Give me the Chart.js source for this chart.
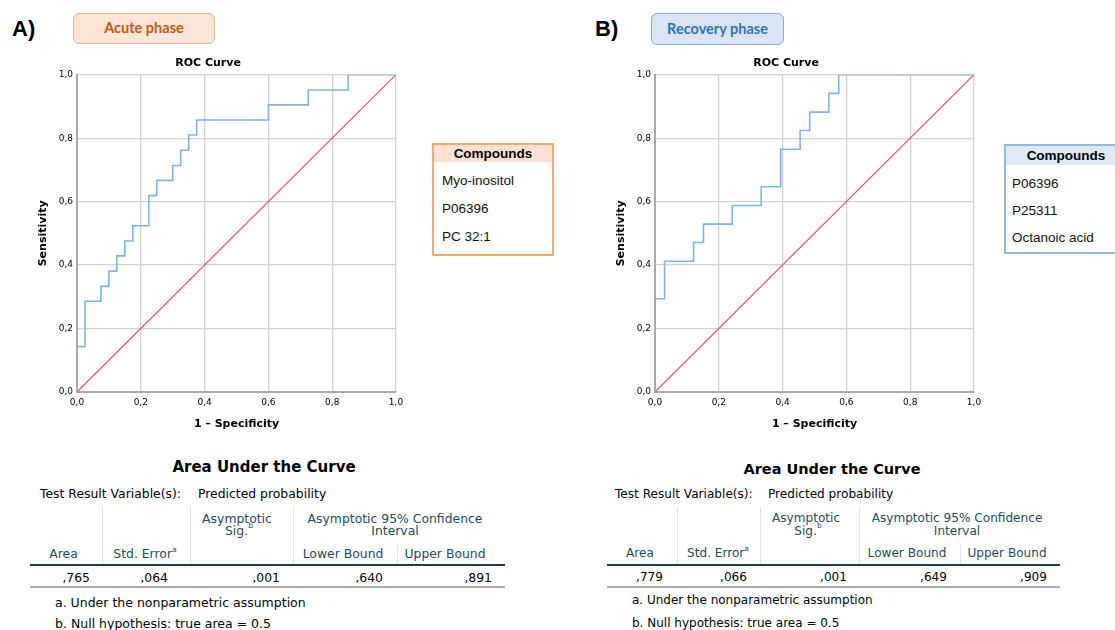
<!DOCTYPE html>
<html><head><meta charset="utf-8">
<script src="https://cdn.jsdelivr.net/npm/chart.js@4.4.1/dist/chart.umd.min.js"></script>
<style>
html,body{margin:0;padding:0;background:#fff;}
body{width:1115px;height:630px;position:relative;overflow:hidden;font-family:"DejaVu Sans",sans-serif;}
.abs{position:absolute;white-space:nowrap;}
canvas{position:absolute;}
.panelLbl{font-family:"Liberation Sans",Arial,sans-serif;font-weight:bold;font-size:22px;line-height:24px;color:#000;}
.phase{box-sizing:border-box;border-radius:6px;font-family:Lato,sans-serif;font-weight:bold;font-size:14.5px;text-align:center;}
.legend{box-sizing:border-box;font-family:"Liberation Sans",Arial,sans-serif;background:#fff;}
.legend .hd{font-weight:bold;font-size:13.5px;text-align:center;color:#000;}
.legend .it{position:absolute;font-size:13.5px;color:#111;}
.hline{position:absolute;}
sup{font-size:0.62em;line-height:0;}
</style></head>
<body>
<div class="abs panelLbl" style="left:12px;top:17px;">A)</div>
<div class="abs panelLbl" style="left:595px;top:17px;">B)</div>
<div class="abs phase" style="left:73px;top:13px;width:142px;height:31px;line-height:28px;background:#fce4d6;border:1.5px solid #f4b183;color:#c55a11;">Acute phase</div>
<div class="abs phase" style="left:651px;top:13px;width:133px;height:32px;line-height:29px;background:#dae3f3;border:1.5px solid #8eaadb;color:#2f75b5;">Recovery phase</div>

<canvas id="rocA" width="390" height="390" style="left:20px;top:50px;"></canvas>
<canvas id="rocB" width="390" height="390" style="left:598px;top:50px;"></canvas>

<div id="legA" class="abs legend" style="left:432px;top:143px;width:122px;height:113px;border:2px solid #f4a974;"></div>
<div id="legB" class="abs legend" style="left:1004px;top:144px;width:124px;height:110px;border:2px solid #93b5de;"></div>

<div id="tables"></div>

<script>
// ---------- DATA ----------
// Panel A (Acute phase) ROC curve vertices: 1 - specificity, sensitivity
const acuteFPR = [0, 0, 0.025, 0.075, 0.100, 0.125, 0.150, 0.175, 0.225, 0.250, 0.300, 0.325, 0.350, 0.375, 0.600, 0.725, 0.850, 1.0];
const acuteTPR = [0, 0.143, 0.286, 0.333, 0.381, 0.429, 0.476, 0.524, 0.619, 0.667, 0.714, 0.762, 0.810, 0.857, 0.905, 0.952, 1.0, 1.0];
// Panel B (Recovery phase)
const recovFPR = [0, 0, 0.030, 0.121, 0.152, 0.242, 0.333, 0.394, 0.455, 0.485, 0.545, 0.576, 1.0];
const recovTPR = [0, 0.294, 0.412, 0.471, 0.529, 0.588, 0.647, 0.765, 0.824, 0.882, 0.941, 1.0, 1.0];
// Reference line
const diagX = [0, 1];
const diagY = [0, 1];
// Axis ticks
const tickMin = 0, tickMax = 1, tickStep = 0.2;

// Legends
const acuteCompounds = ["Myo-inositol", "P06396", "PC 32:1"];
const recovCompounds = ["P06396", "P25311", "Octanoic acid"];

// AUC tables
const aucHeaders = ["Area", "Std. Error", "Asymptotic Sig.", "Lower Bound", "Upper Bound"];
const acuteAUC = [",765", ",064", ",001", ",640", ",891"];
const recovAUC = [",779", ",066", ",001", ",649", ",909"];

// ---------- CHARTS ----------
Chart.defaults.font.family = "DejaVu Sans";
const fmt = v => Number(v).toFixed(1).replace('.', ',');
const tickFont = {family: "DejaVu Sans", size: 9};
const titleFont = {family: "DejaVu Sans", size: 11, weight: "bold"};

function makeROC(id, fpr, tpr) {
  new Chart(document.getElementById(id), {
    type: 'line',
    data: {
      datasets: [
        {data: fpr.map((x, i) => ({x: x, y: tpr[i]})), stepped: 'before', borderColor: '#7db2ef', borderWidth: 1.6, pointRadius: 0, fill: false, order: 1},
        {data: diagX.map((x, i) => ({x: x, y: diagY[i]})), borderColor: '#e4577c', borderWidth: 1.3, pointRadius: 0, fill: false, order: 2}
      ]
    },
    options: {
      responsive: false, animation: false, devicePixelRatio: 1,
      layout: {padding: {left: 0, right: 14, top: 0, bottom: 0}},
      plugins: {
        legend: {display: false}, tooltip: {enabled: false},
        title: {display: true, text: 'ROC Curve', font: titleFont, color: '#000', padding: {top: 7, bottom: 4.5}}
      },
      scales: {
        x: {
          type: 'linear', min: tickMin, max: tickMax,
          ticks: {stepSize: tickStep, callback: fmt, font: tickFont, color: '#000', padding: 5, maxRotation: 0, autoSkip: false},
          grid: {color: '#d3d3d3', lineWidth: 1.3, drawTicks: false},
          border: {display: true, color: '#a9a9a9', width: 2},
          title: {display: true, text: '1 – Specificity', font: titleFont, color: '#000', padding: {top: 0, bottom: 9}},
          afterFit: s => { s.height = 48; }
        },
        y: {
          type: 'linear', min: tickMin, max: tickMax,
          ticks: {stepSize: tickStep, callback: fmt, font: tickFont, color: '#000', padding: 4, autoSkip: false},
          grid: {color: '#d3d3d3', lineWidth: 1.3, drawTicks: false},
          border: {display: true, color: '#a9a9a9', width: 2},
          title: {display: true, text: 'Sensitivity', font: titleFont, color: '#000', padding: {top: 17, bottom: 0}},
          afterFit: s => { s.width = 57; }
        }
      }
    }
  });
}
makeROC('rocA', acuteFPR, acuteTPR);
makeROC('rocB', recovFPR, recovTPR);

// ---------- LEGENDS ----------
function makeLegend(id, items, hdBg, hdH, itemYs, padL) {
  const el = document.getElementById(id);
  const hd = document.createElement('div');
  hd.className = 'hd';
  hd.style.cssText = 'background:' + hdBg + ';height:' + hdH + 'px;line-height:' + hdH + 'px;';
  hd.textContent = 'Compounds';
  el.appendChild(hd);
  items.forEach((t, i) => {
    const d = document.createElement('div');
    d.className = 'it';
    d.style.left = padL + 'px';
    d.style.top = (itemYs[i] - 8) + 'px';
    d.style.lineHeight = '16px';
    d.textContent = t;
    el.appendChild(d);
  });
}
makeLegend('legA', acuteCompounds, '#fbe2d0', 17, [36, 64, 92], 8);
makeLegend('legB', recovCompounds, '#dde9f6', 19, [38, 65, 92], 6);

// ---------- TABLES ----------
const host = document.getElementById('tables');
function txt(s, x, y, o) {
  const d = document.createElement('div');
  d.className = 'abs';
  d.innerHTML = s;
  const al = o.align || 'left';
  const tx = al === 'center' ? '-50%' : (al === 'right' ? '-100%' : '0');
  d.style.cssText += 'left:' + x + 'px;top:' + y + 'px;transform:translate(' + tx + ',-50%);font-size:' + o.size + 'px;line-height:' + Math.round(o.size * 1.2) + 'px;color:' + (o.color || '#000') + ';' + (o.bold ? 'font-weight:bold;' : '');
  host.appendChild(d);
}
function box(x, y, w, h, bg) {
  const d = document.createElement('div');
  d.className = 'hline';
  d.style.cssText = 'left:' + x + 'px;top:' + y + 'px;width:' + w + 'px;height:' + h + 'px;background:' + bg + ';';
  host.appendChild(d);
}
function makeTable(L, vals) {
  const hc = '#264a60', s = L.size;
  txt('Area Under the Curve', L.titleX, L.titleY, {size: L.titleSize, bold: true, align: 'center'});
  txt('Test Result Variable(s):', L.trX, L.trY, {size: s, color: '#010205'});
  txt('Predicted probability', L.ppX, L.trY, {size: s, color: '#010205'});
  const c = L.cols;
  [c[1], c[2], c[3]].forEach(x => box(x, L.vTop, 1, L.thickY - L.vTop, '#e2e2e2'));
  box(c[4], L.row2Top, 1, L.thickY - L.row2Top, '#e2e2e2');
  txt('Asymptotic', L.sigX, L.h1Y, {size: s, color: hc, align: 'center'});
  txt('Sig.<sup style="position:relative;top:-0.2em;">b</sup>', L.sigX + 2, L.h2Y, {size: s, color: hc, align: 'center'});
  txt('Asymptotic 95% Confidence', L.ciX, L.h1Y, {size: s, color: hc, align: 'center'});
  txt('Interval', L.ciX, L.h2Y, {size: s, color: hc, align: 'center'});
  txt(aucHeaders[0], L.hx[0], L.h3Y, {size: s, color: hc, align: 'center'});
  txt(aucHeaders[1] + '<sup style="position:relative;top:-0.1em;">a</sup>', L.hx[1], L.h3Y, {size: s, color: hc, align: 'center'});
  txt(aucHeaders[3], L.hx[3], L.h3Y, {size: s, color: hc, align: 'center'});
  txt(aucHeaders[4], L.hx[4], L.h3Y, {size: s, color: hc, align: 'center'});
  box(c[0], L.thickY, c[5] - c[0], 2, '#1f3b4f');
  vals.forEach((v, i) => txt(v, L.vx[i], L.valY, {size: s, color: '#010205', align: 'right'}));
  box(c[0], L.botY, c[5] - c[0], 2, '#aeaeae');
  txt('a. Under the nonparametric assumption', L.fnX, L.fn1Y, {size: L.fnSize, color: '#010205'});
  txt('b. Null hypothesis: true area = 0.5', L.fnX, L.fn2Y, {size: L.fnSize, color: '#010205'});
}
makeTable({
  size: 12.4, fnSize: 12.5, titleSize: 15, titleX: 264, titleY: 467, trX: 40, trY: 493, ppX: 198,
  cols: [30, 102, 190, 293, 397, 505], vTop: 506, row2Top: 545,
  sigX: 237, ciX: 395, h1Y: 518, h2Y: 530, h3Y: 553, hx: [63.5, 145, 0, 343, 445],
  thickY: 564, valY: 577, vx: [90, 168, 280, 383, 492], botY: 586, fnX: 55, fn1Y: 602, fn2Y: 623
}, acuteAUC);
makeTable({
  size: 12.1, fnSize: 12, titleSize: 14.5, titleX: 832, titleY: 469, trX: 615, trY: 494, ppX: 768,
  cols: [607, 677, 760, 859, 960, 1060], vTop: 507, row2Top: 545,
  sigX: 806, ciX: 957, h1Y: 518, h2Y: 531, h3Y: 553, hx: [640, 718, 0, 907, 1007],
  thickY: 564, valY: 577, vx: [663, 747, 847, 947, 1047], botY: 586, fnX: 632, fn1Y: 600, fn2Y: 623
}, recovAUC);
</script>
</body></html>
